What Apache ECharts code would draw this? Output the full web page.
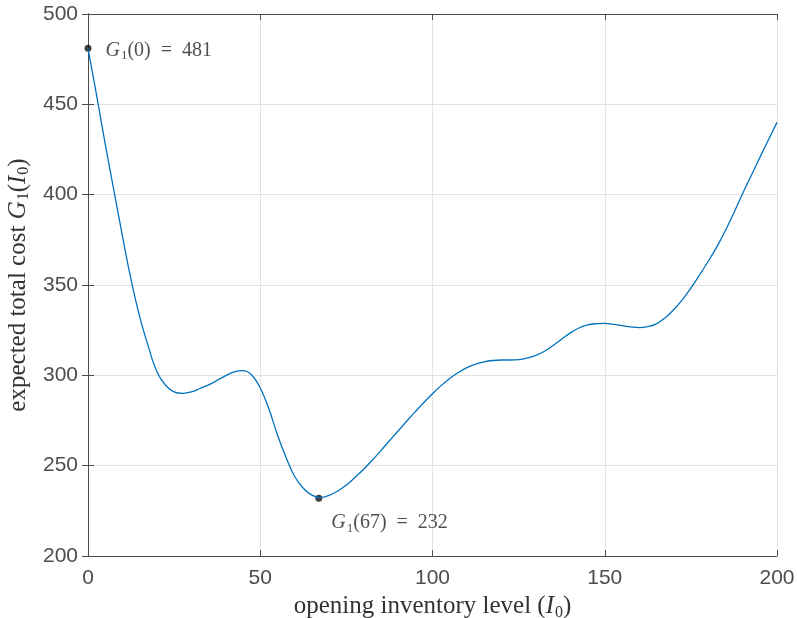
<!DOCTYPE html>
<html>
<head>
<meta charset="utf-8">
<script src="https://cdn.jsdelivr.net/npm/echarts@6/dist/echarts.min.js"></script>
<style>html,body{margin:0;padding:0;background:#fff}#c{width:797px;height:618px}</style>
</head>
<body>
<div id="c"></div>
<script>
const inventory = [0,2.5,5,7.5,10,12.5,15,17.5,20,22.5,25,27.5,30,32.5,35,37.5,40,42.5,45,47.5,50,52.5,55,57.5,60,62.5,65,67.5,70,72.5,75,77.5,80,82.5,85,87.5,90,92.5,95,97.5,100,102.5,105,107.5,110,112.5,115,117.5,120,122.5,125,127.5,130,132.5,135,137.5,140,142.5,145,147.5,150,152.5,155,157.5,160,162.5,165,167.5,170,172.5,175,177.5,180,182.5,185,187.5,190,192.5,195,197.5,200];
const cost = [481,455,428,402.5,377,353,332.5,316,302,294.5,290.8,290,290.8,292.7,294.7,297.2,299.8,301.9,302.6,300.2,293,281.5,267,254.5,244,237.5,233.7,232.3,233.6,236,239.3,243.5,248,253,258.3,263.8,269.2,274.6,279.9,285,289.8,294.3,298.3,301.6,304.3,306.2,307.5,308.2,308.5,308.5,308.7,309.6,311,313.3,316.5,320,323.5,326.2,327.9,328.6,328.8,328.2,327.5,326.8,326.4,327,328.5,331.8,336.3,341.8,348.3,355.5,363,371,380,390,400.5,410.5,420.5,430.3,440];
const markX = [0, 67];
const markY = [481, 232];
const markText = ['{g|G}{s|1}{n|(0)  =  481}', '{g|G}{s|1}{n|(67)  =  232}'];
const xTicks = {min: 0, max: 200, interval: 50};
const yTicks = {min: 200, max: 500, interval: 50};

const serif = '"Liberation Serif", "DejaVu Serif", serif';
const sans = '"Liberation Sans", Arial, sans-serif';
const axisCol = '#4d4d4d';
const richText = {
  g: {fontFamily: serif, fontStyle: 'italic', fontSize: 20, color: '#222'},
  s: {fontFamily: serif, fontSize: 13, color: '#222', padding: [10, 0, 0, 1]},
  n: {fontFamily: serif, fontSize: 20, color: '#222'},
  i: {fontFamily: serif, fontStyle: 'italic', fontSize: 25, color: '#333'},
  t: {fontFamily: serif, fontSize: 25, color: '#333'},
  u: {fontFamily: serif, fontSize: 16, color: '#333', padding: [12, 0, 0, 1]}
};

const chart = echarts.init(document.getElementById('c'), null, {renderer: 'canvas'});
const lineData = inventory.map((x, i) => [x, cost[i]]);
const markData = markX.map((x, i) => ({value: [x, markY[i]], label: {formatter: markText[i], offset: i === 0 ? [9, 2] : [4, 25]}}));

const baseAxis = {
  axisLine: {show: true, lineStyle: {color: axisCol, width: 1}},
  axisTick: {show: true, inside: true, length: 6, lineStyle: {color: axisCol}},
};

chart.setOption({
  animation: false,
  backgroundColor: '#fff',
  grid: {left: 88, right: 20, top: 14, bottom: 62, containLabel: false, outerBoundsMode: 'none'},
  xAxis: [
    Object.assign({}, baseAxis, {
      type: 'value', position: 'bottom', min: xTicks.min, max: xTicks.max, interval: xTicks.interval,
      axisLabel: {color: axisCol, fontFamily: sans, fontSize: 21, margin: 12},
      splitLine: {show: true, lineStyle: {color: '#e3e3e3', width: 1}},
      name: '{t|opening inventory level (}{i|I}{u|0}{t|)}',
      nameLocation: 'middle', nameGap: 35,
      nameTextStyle: {rich: richText}
    }),
    Object.assign({}, baseAxis, {
      type: 'value', position: 'top', min: xTicks.min, max: xTicks.max, interval: xTicks.interval,
      axisLabel: {show: false}, splitLine: {show: false}
    })
  ],
  yAxis: [
    Object.assign({}, baseAxis, {
      type: 'value', position: 'left', min: yTicks.min, max: yTicks.max, interval: yTicks.interval,
      axisLabel: {color: axisCol, fontFamily: sans, fontSize: 21, margin: 10},
      splitLine: {show: true, lineStyle: {color: '#e3e3e3', width: 1}},
      name: '{t|expected total cost }{i|G}{u|1}{t|(}{i|I}{u|0}{t|)}',
      nameLocation: 'middle', nameGap: 56, nameRotate: 90,
      nameTextStyle: {rich: richText}
    }),
    Object.assign({}, baseAxis, {
      type: 'value', position: 'right', min: yTicks.min, max: yTicks.max, interval: yTicks.interval,
      axisLabel: {show: false}, splitLine: {show: false}
    })
  ],
  series: [
    {
      type: 'line', data: lineData, xAxisIndex: 0, yAxisIndex: 0,
      smooth: 0.4, showSymbol: false, symbol: 'none',
      lineStyle: {color: '#0072BD', width: 1.3}
    },
    {
      type: 'scatter', data: markData, xAxisIndex: 0, yAxisIndex: 0,
      symbol: 'circle', symbolSize: 7, itemStyle: {color: '#111'},
      label: {show: true, position: 'right', rich: richText}
    }
  ]
});
</script>
</body>
</html>
